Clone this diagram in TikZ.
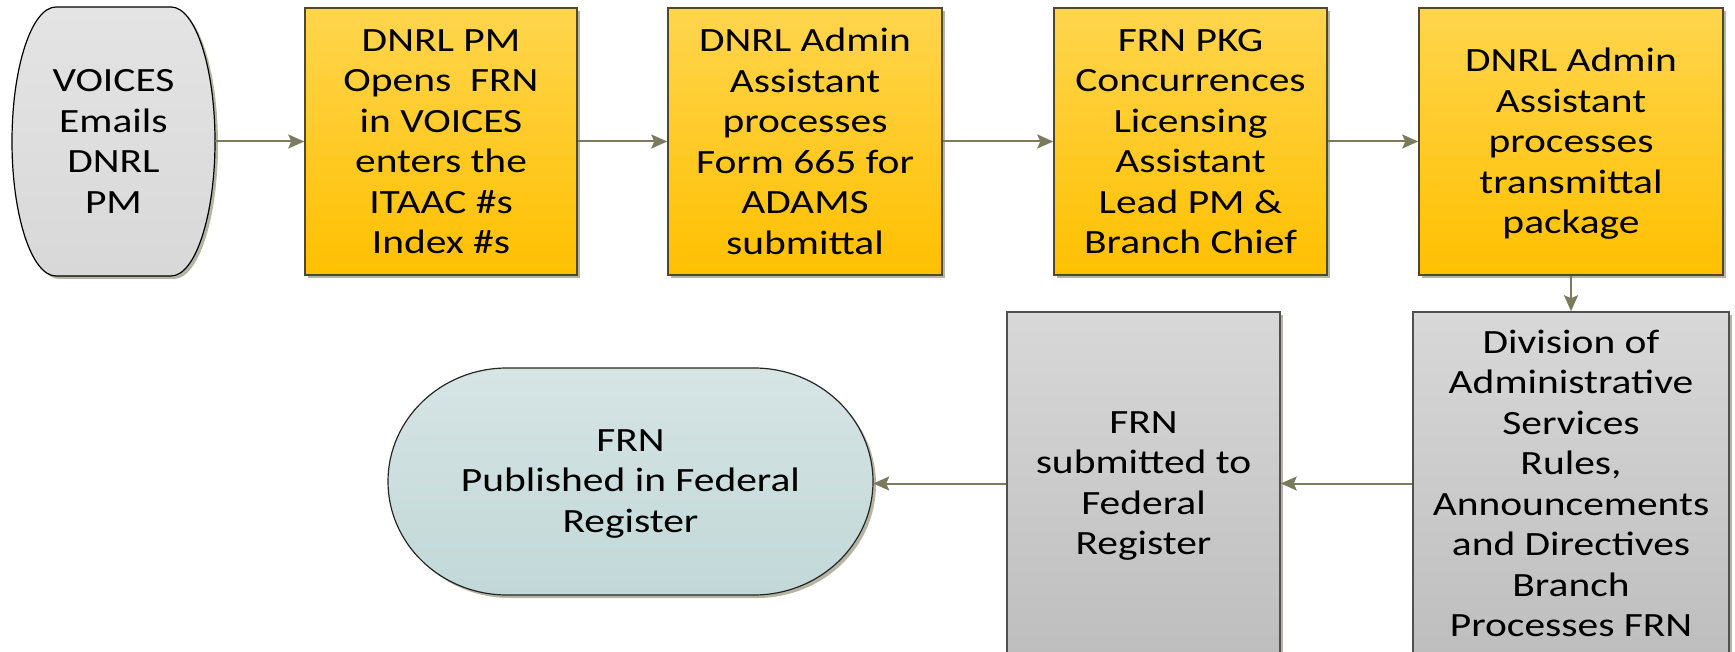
\documentclass[tikz,border=0pt]{standalone}
\usepackage{fontspec}
\setmainfont{Carlito}[FakeStretch=1.22]
\usetikzlibrary{arrows.meta,shadows}
\definecolor{yelTop}{RGB}{255,213,78}
\definecolor{yelBot}{RGB}{255,192,0}
\definecolor{grTop}{RGB}{216,216,216}
\definecolor{grBot}{RGB}{190,190,190}
\definecolor{voTop}{RGB}{228,228,228}
\definecolor{voBot}{RGB}{216,216,216}
\definecolor{puTop}{RGB}{214,228,228}
\definecolor{puBot}{RGB}{194,216,216}
\definecolor{arrowc}{RGB}{122,122,92}
\definecolor{shadowc}{RGB}{182,180,162}
\definecolor{yelEdge}{RGB}{80,72,40}
\definecolor{grEdge}{RGB}{80,80,80}
\tikzset{
  sh/.style={drop shadow={shadow xshift=3pt, shadow yshift=-3pt, fill=shadowc, opacity=1}},
  txt/.style={font=\fontsize{34}{40.5}\selectfont, align=center, text=black, inner sep=0pt},
  ybox/.style={txt, draw=yelEdge, line width=1.5pt, top color=yelTop, bottom color=yelBot, sh, minimum height=267pt},
  gbox/.style={txt, draw=grEdge, line width=1.5pt, top color=grTop, bottom color=grBot, sh, minimum height=343pt},
  capshape/.style={line width=1.2pt, sh},
  flow/.style={draw=arrowc, line width=2pt, -{Stealth[length=16pt,width=14pt,inset=3pt]}},
}
\begin{document}
\begin{tikzpicture}[x=1pt,y=1pt]
\useasboundingbox (0,0) rectangle (1735,-652);
\begin{scope}
\clip (0,0) rectangle (1735,-652);
% VOICES (capsule, vertical)
\path[capshape, draw=black, top color=voTop, bottom color=voBot]
  (56,-7) -- (171,-7) arc[start angle=90, end angle=-90, x radius=44, y radius=134.5]
  -- (56,-276) arc[start angle=270, end angle=90, x radius=44, y radius=134.5] -- cycle;
\node[txt, minimum width=203pt, minimum height=269pt] (VO) at (113.5,-141.5) {VOICES\\Emails\\DNRL\\PM};
% top row boxes
\node[ybox, minimum width=272pt] (B1) at (441,-141.5) {DNRL PM\\Opens\ \ FRN\\in VOICES\\enters the\\ITAAC \#s\\Index \#s};
\node[ybox, minimum width=274pt] (B2) at (805,-141.5) {DNRL Admin\\Assistant\\processes\\Form 665 for\\ADAMS\\submittal};
\node[ybox, minimum width=273pt] (B3) at (1190.5,-141.5) {FRN PKG\\Concurrences\\Licensing\\Assistant\\Lead PM \&\\Branch Chief};
\node[ybox, minimum width=304pt] (B4) at (1571,-141.5) {\rule{0pt}{28.5pt}DNRL Admin\\Assistant\\processes\\transmittal\\package};
% bottom row
\node[gbox, minimum width=316pt] (DIV) at (1571,-483.5) {Division of\\Administrative\\Services\\Rules,\\Announcements\\and Directives\\Branch\\Processes FRN};
\node[gbox, minimum width=273pt] (SUB) at (1143.5,-483.5) {\rule{0pt}{26.5pt}FRN\\submitted to\\Federal\\Register};
% Published (capsule, horizontal)
\path[capshape, draw=black!85, top color=puTop, bottom color=puBot]
  (507,-368) -- (754,-368) arc[start angle=90, end angle=-90, x radius=119, y radius=113.5]
  -- (507,-595) arc[start angle=270, end angle=90, x radius=119, y radius=113.5] -- cycle;
\node[txt, minimum width=485pt, minimum height=227pt] (PUB) at (630.5,-481.5) {\rule{0pt}{26.5pt}FRN\\Published in Federal\\Register};
\end{scope}
% connectors
\draw[flow] (VO.east) -- (B1.west);
\draw[flow] (B1.east) -- (B2.west);
\draw[flow] (B2.east) -- (B3.west);
\draw[flow] (B3.east) -- (B4.west);
\draw[flow] (B4.south) -- (DIV.north);
\draw[flow] (DIV.west) -- (SUB.east);
\draw[flow] (SUB.west) -- (SUB.west -| PUB.east);
\end{tikzpicture}
\end{document}
